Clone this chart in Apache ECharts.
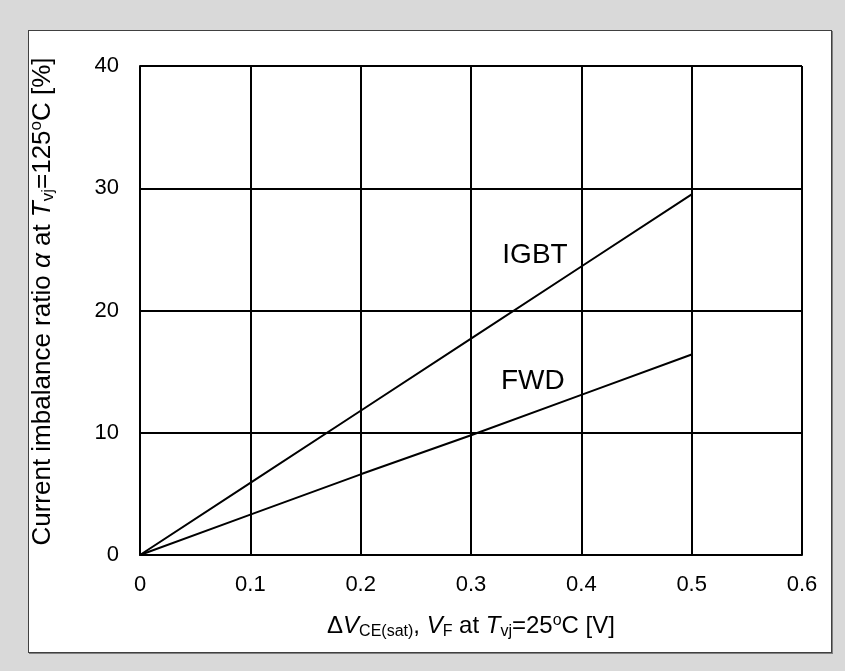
<!DOCTYPE html>
<html><head><meta charset="utf-8">
<script src="https://cdn.jsdelivr.net/npm/echarts@6/dist/echarts.min.js"></script>
<style>
html,body{margin:0;padding:0;background:#d9d9d9;}
#panel{position:absolute;left:28px;top:30px;width:802px;height:621px;background:#fff;border:1px solid #404040;box-shadow:1px 1px 0 #808080;}
#c{position:absolute;left:0;top:0;width:845px;height:671px;}
</style></head>
<body>
<div id="panel"></div>
<div id="c"></div>
<script>
const xValues = [0, 0.1, 0.2, 0.3, 0.4, 0.5];
const igbt = [0, 5.9, 11.8, 17.7, 23.6, 29.5];
const fwd = [0, 3.3, 6.6, 9.8, 13.1, 16.4];
const seriesNames = ['IGBT', 'FWD'];
const labelPos = [[0.358, 24.5], [0.356, 14.2]];

const chart = echarts.init(document.getElementById('c'), null, {renderer: 'canvas'});
const font = '"Liberation Sans", Arial, sans-serif';
function mkRich(fs) {
  const ss = Math.round(fs * 0.65);
  return {
    n: {fontFamily: font, fontSize: fs, color: '#000'},
    i: {fontFamily: font, fontSize: fs, fontStyle: 'italic', color: '#000'},
    sub: {fontFamily: font, fontSize: ss, color: '#000', verticalAlign: 'bottom', padding: [Math.round(fs * 0.45), 0, 0, 0]},
    sup: {fontFamily: font, fontSize: ss, color: '#000', verticalAlign: 'top', padding: [0, 0, Math.round(fs * 0.45), 0]}
  };
}
chart.setOption({
  animation: false,
  backgroundColor: 'transparent',
  grid: {left: 140, top: 66, width: 662, height: 489},
  xAxis: {
    type: 'value', min: 0, max: 0.6, interval: 0.1,
    axisLine: {show: true, lineStyle: {color: '#000', width: 2}},
    axisTick: {show: false},
    splitLine: {show: true, lineStyle: {color: '#000', width: 2}},
    axisLabel: {color: '#000', fontFamily: font, fontSize: 22, margin: 19,
      formatter: v => v === 0 ? '0' : v.toFixed(1)},
    name: '{n|Δ}{i|V}{sub|CE(sat)}{n|, }{i|V}{sub|F}{n| at }{i|T}{sub|vj}{n|=25}{sup|o}{n|C [V]}',
    nameLocation: 'middle', nameGap: 58,
    nameTextStyle: {rich: mkRich(24)}
  },
  yAxis: {
    type: 'value', min: 0, max: 40, interval: 10,
    axisLine: {show: true, lineStyle: {color: '#000', width: 2}},
    axisTick: {show: false},
    splitLine: {show: true, lineStyle: {color: '#000', width: 2}},
    axisLabel: {color: '#000', fontFamily: font, fontSize: 22, margin: 21},
    name: '{n|Current imbalance ratio }{i|α}{n| at }{i|T}{sub|vj}{n|=125}{sup|o}{n|C [%]}',
    nameLocation: 'middle', nameGap: 83, nameRotate: 90,
    nameTextStyle: {rich: mkRich(26), padding: [0, 0, 0, 18]}
  },
  series: [
    {name: seriesNames[0], type: 'line', data: xValues.map((x, k) => [x, igbt[k]]),
     symbol: 'none', lineStyle: {color: '#000', width: 2}, z: 3},
    {name: seriesNames[1], type: 'line', data: xValues.map((x, k) => [x, fwd[k]]),
     symbol: 'none', lineStyle: {color: '#000', width: 2}, z: 3},
    {type: 'scatter', symbolSize: 0, z: 4, silent: true,
     itemStyle: {color: '#000', opacity: 1},
     data: seriesNames.map((n, k) => ({value: labelPos[k], name: n})),
     label: {show: true, position: 'inside', formatter: p => p.name,
       color: '#000', opacity: 1, textBorderWidth: 0, fontFamily: font, fontSize: 28}}
  ]
});
</script>
</body></html>
